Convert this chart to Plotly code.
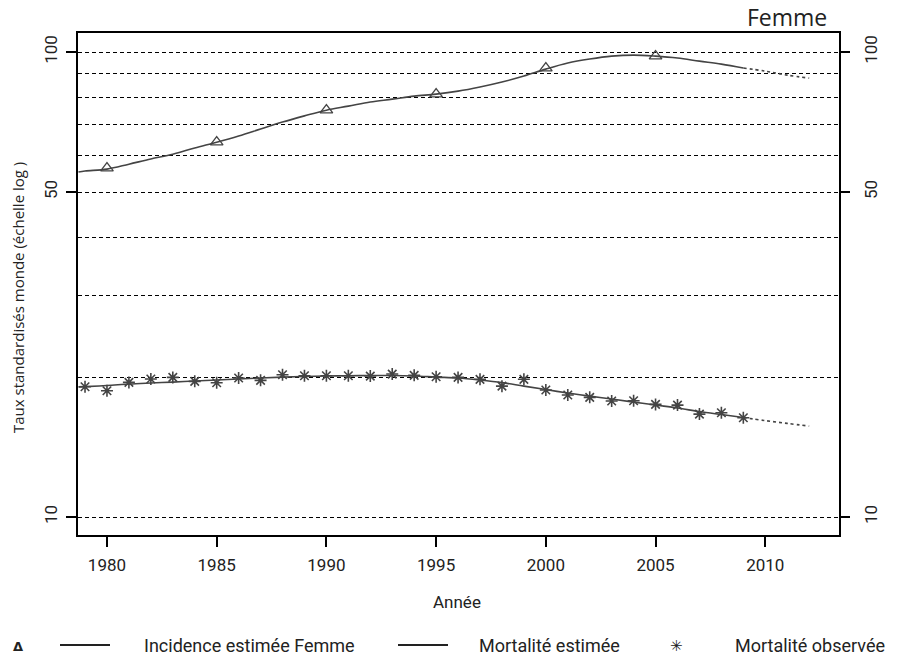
import plotly.graph_objects as go

# ---------------- data ----------------
years_curve = [1978.7] + list(range(1979, 2010))
incidence_curve = [55.2, 55.5, 56.0, 57.4, 58.9, 60.3, 62.2, 64.0, 66.0, 68.3, 70.7, 72.9,
                   75.0, 76.5, 78.1, 79.2, 80.4, 81.2, 82.4, 84.1, 86.2, 88.8,
                   91.9, 94.7, 96.6, 98.0, 98.5, 98.0, 97.1, 95.6, 94.2, 92.4]
years_proj = [2009, 2010, 2011, 2012]
incidence_proj = [92.4, 91.0, 89.2, 87.9]

years_inc_obs = [1980, 1985, 1990, 1995, 2000, 2005]
incidence_obs = [56.3, 64.0, 75.0, 81.2, 92.4, 98.0]

mortality_curve = [19.05, 19.08, 19.18, 19.32, 19.42, 19.51, 19.61, 19.71, 19.81, 19.91, 20.00,
                   20.06, 20.10, 20.13, 20.15, 20.15, 20.10, 20.00, 19.91, 19.71, 19.46,
                   19.12, 18.80, 18.48, 18.20, 17.94, 17.67, 17.41, 17.16, 16.86, 16.61, 16.37]
mortality_proj = [16.37, 16.12, 15.90, 15.69]

years_mort_obs = list(range(1979, 2010))
mortality_obs = [19.06, 18.69, 19.48, 19.81, 19.97, 19.58, 19.45, 19.91, 19.68, 20.23,
                 20.13, 20.13, 20.13, 20.10, 20.30, 20.17, 20.03, 19.97, 19.78, 19.12,
                 19.78, 18.76, 18.30, 18.09, 17.77, 17.79, 17.47, 17.41, 16.65, 16.76, 16.35]

y_ticks = [10, 50, 100]
y_minor = [20, 30, 40, 60, 70, 80, 90]
x_ticks = [1980, 1985, 1990, 1995, 2000, 2005, 2010]

# ---------------- style ----------------
COL = "#444444"
W, H = 898, 658
L, R, T, B = 78, 59, 33, 123


def px(x):
    return (x - L) / (W - L - R)


def py(y):
    return (H - B - y) / (H - T - B)


fig = go.Figure()

fig.add_trace(go.Scatter(x=years_curve, y=incidence_curve, mode="lines",
                         line=dict(color=COL, width=1.6, shape="spline"),
                         showlegend=False, hoverinfo="skip"))
fig.add_trace(go.Scatter(x=years_proj, y=incidence_proj, mode="lines",
                         line=dict(color=COL, width=1.6, dash="3px,3px", shape="spline"),
                         showlegend=False, hoverinfo="skip"))
fig.add_trace(go.Scatter(x=years_inc_obs, y=incidence_obs, mode="markers",
                         marker=dict(symbol="triangle-up-open", size=11, color=COL,
                                     line=dict(width=1.3, color=COL)),
                         showlegend=False))
fig.add_trace(go.Scatter(x=years_curve, y=mortality_curve, mode="lines",
                         line=dict(color=COL, width=1.6, shape="spline"),
                         showlegend=False, hoverinfo="skip"))
fig.add_trace(go.Scatter(x=years_proj, y=mortality_proj, mode="lines",
                         line=dict(color=COL, width=1.6, dash="3px,3px", shape="spline"),
                         showlegend=False, hoverinfo="skip"))
fig.add_trace(go.Scatter(x=years_mort_obs, y=mortality_obs, mode="markers",
                         marker=dict(symbol="asterisk-open", size=10, color=COL,
                                     line=dict(width=1.6, color=COL)),
                         showlegend=False))
# invisible trace for right axis
fig.add_trace(go.Scatter(x=years_curve, y=mortality_curve, mode="lines", yaxis="y2",
                         line=dict(width=0), opacity=0, showlegend=False, hoverinfo="skip"))

yrange = [0.9614, 2.041]
tickfont = dict(family="Roboto", size=17, color="#222222")

fig.update_layout(
    width=W, height=H,
    margin=dict(l=L, r=R, t=T, b=B),
    paper_bgcolor="white", plot_bgcolor="white",
    showlegend=False,
    xaxis=dict(range=[1978.68, 2013.36], tickvals=x_ticks, ticks="outside", ticklen=10,
               tickwidth=1.5, tickcolor="black", showgrid=False, zeroline=False,
               showline=True, linecolor="black", linewidth=1.5, mirror=True,
               tickfont=tickfont, ticklabelstandoff=4),
    yaxis=dict(type="log", range=yrange, tickvals=y_ticks, ticktext=[str(v) for v in y_ticks],
               tickangle=-90, ticks="outside", ticklen=10, tickwidth=1.5, tickcolor="black",
               showgrid=True, gridcolor="black", gridwidth=1, griddash="4px,3px",
               minor=dict(tickvals=y_minor, showgrid=True, gridcolor="black", gridwidth=1,
                          griddash="4px,3px", ticks=""),
               zeroline=False, showline=True, linecolor="black", linewidth=1.5, mirror=True,
               tickfont=tickfont, ticklabelstandoff=2),
    yaxis2=dict(type="log", range=yrange, overlaying="y", side="right", tickvals=y_ticks,
                ticktext=[str(v) for v in y_ticks], tickangle=-90, ticks="outside",
                ticklen=10, tickwidth=1.5, tickcolor="black", showgrid=False,
                zeroline=False, showline=False, tickfont=tickfont, ticklabelstandoff=7),
)

ann = []
ann.append(dict(text="Femme", x=px(787), y=py(17), xref="paper", yref="paper",
                showarrow=False, xanchor="center", yanchor="middle",
                font=dict(family="Open Sans", size=23, color="#222222")))
ann.append(dict(text="Année", x=px(457), y=py(602), xref="paper", yref="paper",
                showarrow=False, xanchor="center", yanchor="middle",
                font=dict(family="Roboto", size=17, color="#222222")))
ann.append(dict(text="Taux standardisés monde (échelle log )", x=px(18), y=py(298),
                xref="paper", yref="paper", showarrow=False, textangle=-90,
                xanchor="center", yanchor="middle",
                font=dict(family="Open Sans", size=15, color="#222222")))
legend_font = dict(family="Roboto", size=18, color="#222222")
ann.append(dict(text="<b>Δ</b>", x=px(18), y=py(646), xref="paper", yref="paper",
                showarrow=False, xanchor="center", yanchor="middle",
                font=dict(family="DejaVu Sans", size=13, color="#222222")))
ann.append(dict(text="Incidence estimée Femme", x=px(142), y=py(645), xref="paper",
                yref="paper", showarrow=False, xanchor="left", yanchor="middle",
                font=legend_font))
ann.append(dict(text="Mortalité estimée", x=px(477), y=py(645), xref="paper",
                yref="paper", showarrow=False, xanchor="left", yanchor="middle",
                font=legend_font))
ann.append(dict(text="<b>✳</b>", x=px(676), y=py(646), xref="paper", yref="paper",
                showarrow=False, xanchor="center", yanchor="middle",
                font=dict(family="DejaVu Sans", size=15, color="#222222")))
ann.append(dict(text="Mortalité observée", x=px(733), y=py(645), xref="paper",
                yref="paper", showarrow=False, xanchor="left", yanchor="middle",
                font=legend_font))
fig.update_layout(annotations=ann)

shapes = []
for x0, x1 in [(60, 110), (398, 448)]:
    shapes.append(dict(type="line", xref="paper", yref="paper", x0=px(x0), x1=px(x1),
                       y0=py(645), y1=py(645), line=dict(color="#222222", width=1.8)))
fig.update_layout(shapes=shapes)

fig.write_html("out.html", config={"displayModeBar": False},
               post_script="document.body.style.margin='0px';")
